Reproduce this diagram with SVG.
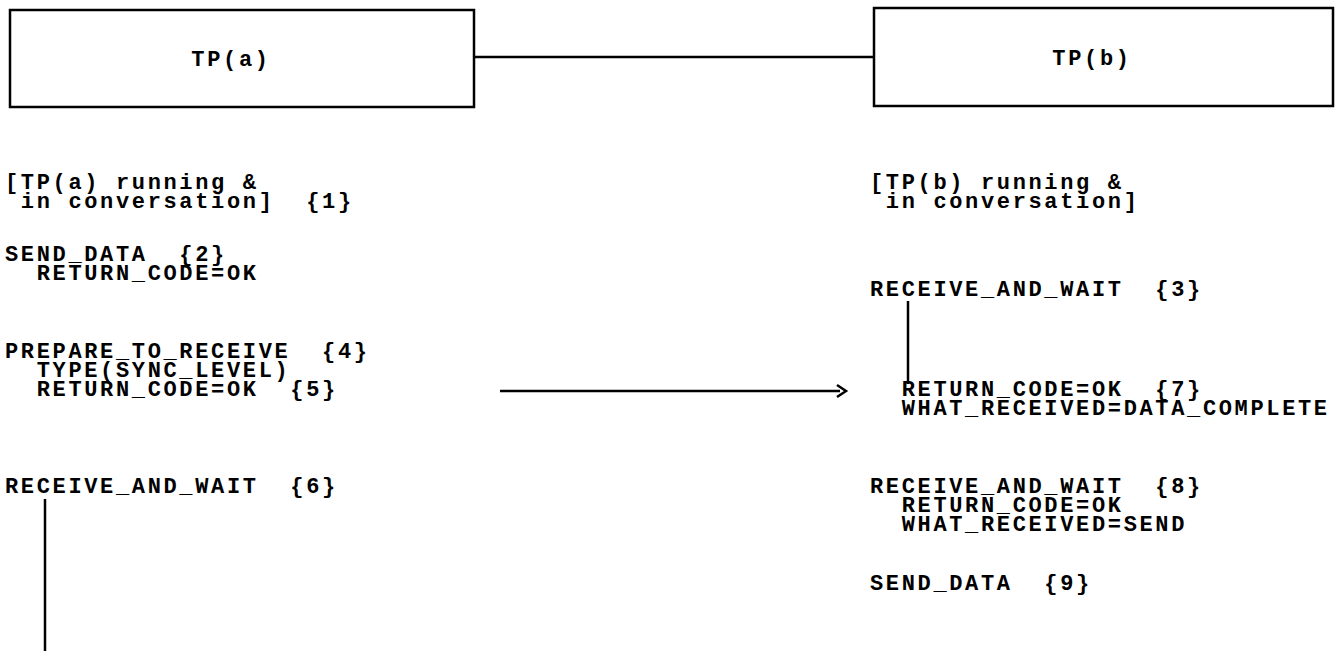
<svg xmlns="http://www.w3.org/2000/svg" width="1343" height="651" viewBox="0 0 1343 651" xml:space="preserve">
<style>
  .box { fill: #fff; stroke: #000; stroke-width: 2.5; }
  .t { font-family: "Liberation Mono", "DejaVu Sans Mono", monospace; font-weight: bold; font-size: 22px; letter-spacing: 2.65px; fill: #000; white-space: pre; }
  .ln { stroke: #000; stroke-width: 2.5; fill: none; }
</style>
<rect width="1343" height="651" fill="#fff"/>
<g id="tpa">
  <rect class="box" x="10" y="10" width="464" height="97"/>
  <text class="t" x="231" y="66" text-anchor="middle">TP(a)</text>
</g>
<g id="tpb">
  <rect class="box" x="874" y="8" width="459" height="98"/>
  <text class="t" x="1092" y="65" text-anchor="middle">TP(b)</text>
</g>
<g id="left-col">
  <text class="t" x="5" y="189">[TP(a) running &amp;</text>
  <text class="t" x="5" y="208"> in conversation]  {1}</text>
  <text class="t" x="5" y="261">SEND_DATA  {2}</text>
  <text class="t" x="5" y="280">  RETURN_CODE=OK</text>
  <text class="t" x="5" y="358">PREPARE_TO_RECEIVE  {4}</text>
  <text class="t" x="5" y="377">  TYPE(SYNC_LEVEL)</text>
  <text class="t" x="5" y="396">  RETURN_CODE=OK  {5}</text>
  <text class="t" x="5" y="493">RECEIVE_AND_WAIT  {6}</text>
</g>
<g id="right-col">
  <text class="t" x="870" y="189">[TP(b) running &amp;</text>
  <text class="t" x="870" y="208"> in conversation]</text>
  <text class="t" x="870" y="296">RECEIVE_AND_WAIT  {3}</text>
  <text class="t" x="870" y="396">  RETURN_CODE=OK  {7}</text>
  <text class="t" x="870" y="415">  WHAT_RECEIVED=DATA_COMPLETE</text>
  <text class="t" x="870" y="493">RECEIVE_AND_WAIT  {8}</text>
  <text class="t" x="870" y="512">  RETURN_CODE=OK</text>
  <text class="t" x="870" y="531">  WHAT_RECEIVED=SEND</text>
  <text class="t" x="870" y="590">SEND_DATA  {9}</text>
</g>
<g id="connectors">
  <line class="ln" x1="474" y1="57" x2="874" y2="57"/>
  <line class="ln" x1="500" y1="391" x2="840" y2="391"/>
  <polyline class="ln" points="837,385 846,391 837,397" stroke-width="3"/>
  <line class="ln" x1="908" y1="301" x2="908" y2="384"/>
  <line class="ln" x1="45" y1="499" x2="45" y2="651"/>
</g>
</svg>
